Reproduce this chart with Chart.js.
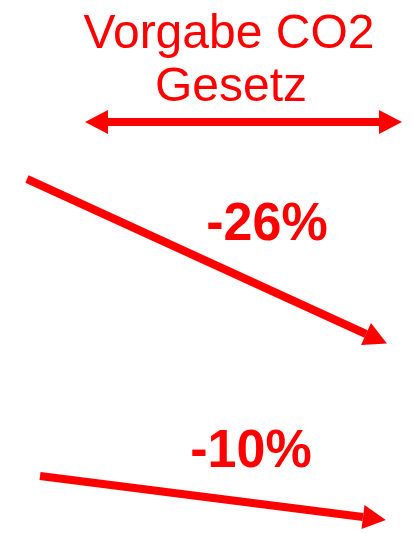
<!DOCTYPE html>
<html><head><meta charset="utf-8">
<script src="https://cdn.jsdelivr.net/npm/chart.js@4/dist/chart.umd.min.js"></script>
<style>html,body{margin:0;padding:0;background:#fff;overflow:hidden}</style>
</head><body>
<canvas id="c" width="414" height="533" style="display:block;width:414px;height:533px"></canvas>
<script>
// ---- data (diagram units) ----
const headingLines = ["Vorgabe CO2", "Gesetz"];
const headingX = [229, 231];
const headingY = [48, 101];

const reductionLabels = ["-26%", "-10%"];
const reductionLabelX = [267, 251];
const reductionLabelY = [240, 467];

const rangeArrowX = [108, 379];
const rangeArrowY = [122, 122];

const arrow26X = [27, 366];
const arrow26Y = [179, 334];

const arrow10X = [40, 363];
const arrow10Y = [476, 517];

const RED = '#ff0000';
const toPts = (xs, ys) => xs.map((x, i) => ({x: x, y: ys[i]}));

function drawHead(ctx, a, b) {
  const dx = b.x - a.x, dy = b.y - a.y, L = Math.hypot(dx, dy);
  const ux = dx / L, uy = dy / L, len = 23, hw = 12;
  ctx.beginPath();
  ctx.moveTo(b.x + ux * len, b.y + uy * len);
  ctx.lineTo(b.x - uy * hw, b.y + ux * hw);
  ctx.lineTo(b.x + uy * hw, b.y - ux * hw);
  ctx.closePath();
  ctx.fill();
}

function stretchedText(ctx, t, x, y, sy) {
  ctx.save();
  ctx.translate(x, y);
  ctx.scale(1, sy);
  ctx.fillText(t, 0, 0);
  ctx.restore();
}

const annotPlugin = {
  id: 'annot',
  afterDatasetsDraw(chart) {
    const ctx = chart.ctx, sx = chart.scales.x, sy = chart.scales.y;
    ctx.save();
    ctx.fillStyle = RED;
    chart.data.datasets.forEach((ds, i) => {
      const pts = chart.getDatasetMeta(i).data;
      const heads = ds.heads || [];
      if (heads.includes('end')) drawHead(ctx, pts[pts.length - 2], pts[pts.length - 1]);
      if (heads.includes('start')) drawHead(ctx, pts[1], pts[0]);
    });
    ctx.textAlign = 'center';
    ctx.textBaseline = 'alphabetic';
    ctx.font = '48px "Liberation Sans", Arial, sans-serif';
    headingLines.forEach((t, i) => stretchedText(ctx, t, sx.getPixelForValue(headingX[i]), sy.getPixelForValue(headingY[i]), 1.02));
    ctx.font = 'bold 52px "Liberation Sans", Arial, sans-serif';
    reductionLabels.forEach((t, i) => stretchedText(ctx, t, sx.getPixelForValue(reductionLabelX[i]), sy.getPixelForValue(reductionLabelY[i]), 1.03));
    ctx.restore();
  }
};

const lineStyle = {showLine: true, borderColor: RED, backgroundColor: RED, borderWidth: 8, borderCapStyle: 'butt', pointRadius: 0, pointHoverRadius: 0, fill: false, clip: false};

new Chart(document.getElementById('c'), {
  type: 'scatter',
  data: {
    datasets: [
      Object.assign({label: 'Vorgabe', data: toPts(rangeArrowX, rangeArrowY), heads: ['start', 'end']}, lineStyle),
      Object.assign({label: '-26%', data: toPts(arrow26X, arrow26Y), heads: ['end']}, lineStyle),
      Object.assign({label: '-10%', data: toPts(arrow10X, arrow10Y), heads: ['end']}, lineStyle)
    ]
  },
  options: {
    responsive: false,
    animation: false,
    devicePixelRatio: 1,
    layout: {padding: 0},
    events: [],
    scales: {
      x: {type: 'linear', min: 0, max: 414, display: false},
      y: {type: 'linear', min: 0, max: 533, reverse: true, display: false}
    },
    plugins: {legend: {display: false}, tooltip: {enabled: false}, title: {display: false}}
  },
  plugins: [annotPlugin]
});
</script>
</body></html>
